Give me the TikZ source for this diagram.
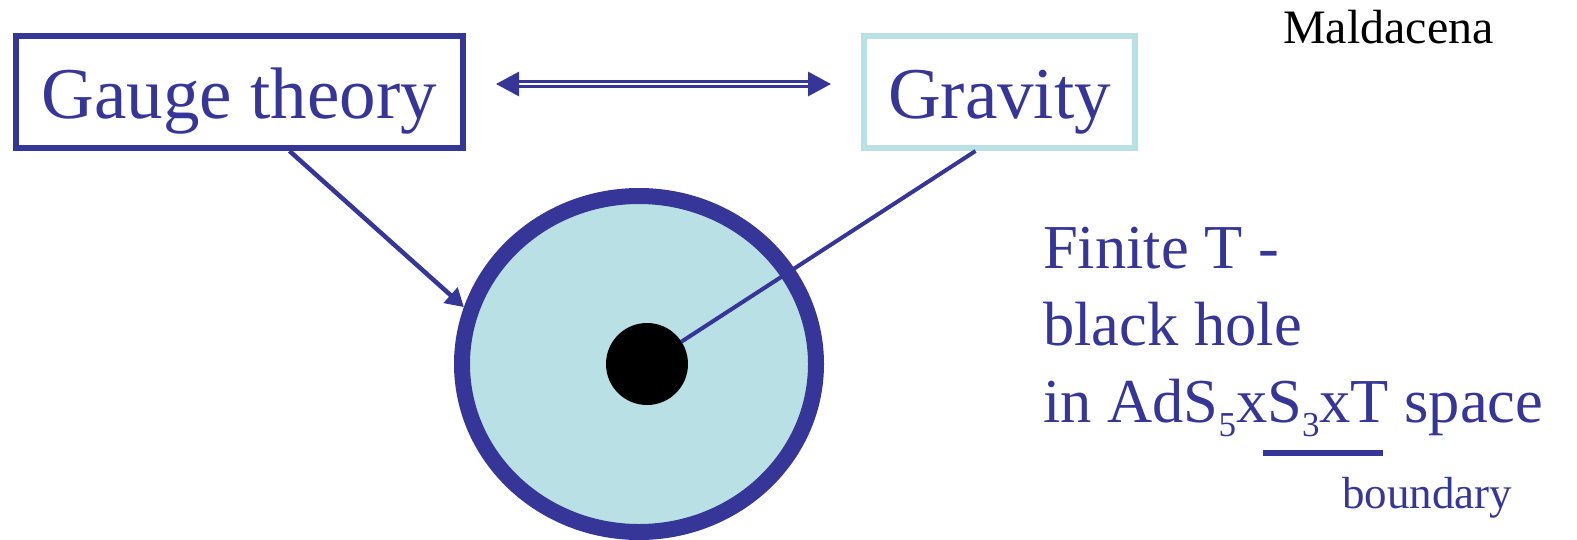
\documentclass[tikz,border=0pt]{standalone}
\usepackage{fontspec}
\setmainfont{Liberation Serif}
\usepackage{tikz}
\usetikzlibrary{arrows.meta,positioning,shapes.geometric}
\definecolor{slideBlue}{RGB}{54,54,153}
\definecolor{slideCyan}{RGB}{185,224,228}
\newcommand{\sbs}[1]{\raisebox{-14pt}{\fontsize{35}{35}\selectfont #1}}

\begin{document}
\begin{tikzpicture}[x=1pt,y=-1pt,
  b/.style={draw,line width=6pt,inner sep=0pt,minimum height=112pt,text=slideBlue,font=\fontsize{73}{80}\selectfont,text height=56pt,text depth=3pt},
  arrow/.style={-{Triangle[length=18pt,width=20pt]},line width=4.5pt,slideBlue},
  dbl/.style={{Triangle[length=23pt,width=24pt]}-{Triangle[length=23pt,width=24pt]},double=white,double distance=2.5pt,line width=3pt,draw=slideBlue},
  txt/.style={text=slideBlue,inner sep=0pt,align=left}
]
  \useasboundingbox (0,0) rectangle (1577,539);
  \node[b,draw=slideBlue,minimum width=447pt] (gauge) at (239.5,92) {Gauge theory};
  \node[b,draw=slideCyan,minimum width=271pt] (gravity) at (999.5,92) {Gravity};
  \node[ellipse,draw=slideBlue,fill=slideCyan,line width=16pt,inner sep=0pt,minimum width=354pt,minimum height=336pt] (ads) at (639,364) {};
  \node[circle,fill=black,minimum size=82pt,inner sep=0pt,outer sep=0pt] (bh) at (647,364) {};
  \draw[dbl,shorten <=30pt,shorten >=30pt] ([yshift=8pt]gauge.east) -- ([yshift=8pt]gravity.west);
  \draw[arrow] ([xshift=50pt]gauge.south) -- (ads.162);
  \draw[slideBlue,line width=4pt] (bh) -- ([xshift=-24pt]gravity.south);
  \node[txt,anchor=base west,font=\fontsize{62.5}{77}\selectfont] (finite) at (1043,422) {Finite T -\\black hole\\in AdS\sbs{5}xS\sbs{3}xT space};
  \draw[slideBlue,line width=6.5pt] (1263,453) -- (1383,453);
  \node[txt,anchor=base west,font=\fontsize{45}{50}\selectfont] (bnd) at (1342,508) {boundary};
  \node[anchor=base west,inner sep=0pt,font=\fontsize{48}{50}\selectfont] (author) at (1283,43) {Maldacena};
\end{tikzpicture}
\end{document}
